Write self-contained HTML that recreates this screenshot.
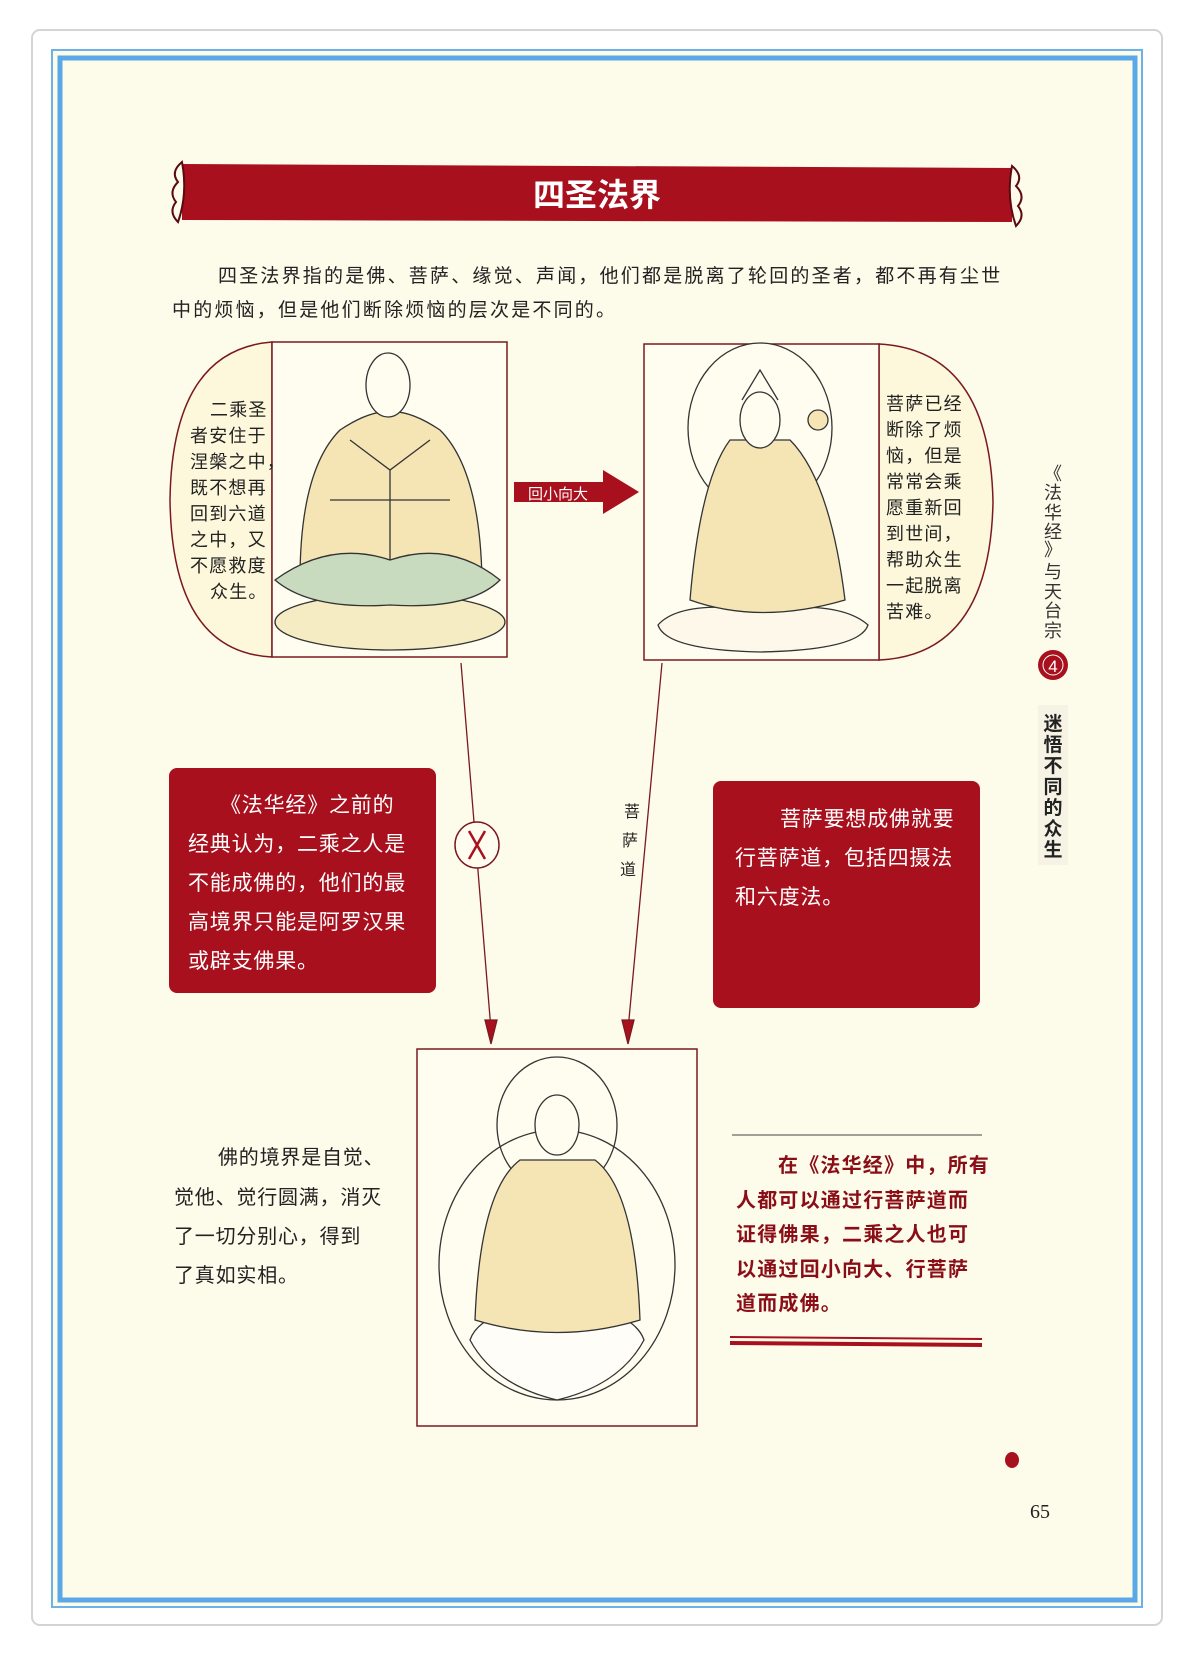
<!DOCTYPE html>
<html><head><meta charset="utf-8"><style>
html,body{margin:0;padding:0;background:#fff;}
svg{display:block;}
text{font-family:"Liberation Sans","Noto Sans CJK SC",sans-serif;}
</style></head><body>
<svg width="1188" height="1657" viewBox="0 0 1188 1657" xmlns="http://www.w3.org/2000/svg">
<rect x="32" y="30" width="1130" height="1595" rx="8" fill="#fff" stroke="#d4d4d4" stroke-width="2"/>
<rect x="52" y="50" width="1090" height="1557" fill="#fdfbea" stroke="#6bb2ea" stroke-width="2"/>
<rect x="60" y="58" width="1075" height="1542" fill="#fdfbea" stroke="#5aa8e8" stroke-width="5"/>
<path d="M182 164 L1012 168 L1012 222 L182 220 Z" fill="#a8101d"/>
<path d="M182 162 q-12 10 -4 20 q-10 10 -2 20 q-8 10 2 20 q10 -28 4 -60Z" fill="#fdfbea" stroke="#5a0a10" stroke-width="2"/>
<path d="M1012 166 q12 10 4 20 q10 10 2 20 q8 10 -2 20 q-10 -28 -4 -60Z" fill="#fdfbea" stroke="#5a0a10" stroke-width="2"/>
<text x="597" y="206" font-size="32" font-weight="bold" fill="#fff" text-anchor="middle">四圣法界</text>
<text font-size="19" fill="#222" letter-spacing="2.2"><tspan x="218" y="282">四圣法界指的是佛、菩萨、缘觉、声闻，他们都是脱离了轮回的圣者，都不再有尘世</tspan><tspan x="172" y="316">中的烦恼，但是他们断除烦恼的层次是不同的。</tspan></text>
<path d="M272 342 Q172 350 170 500 Q172 652 272 657 Z" fill="#fdf8dc" stroke="#7a1a20" stroke-width="1.5"/>
<rect x="272" y="342" width="235" height="315" fill="#fffdf0" stroke="#7a1a20" stroke-width="1.5"/>
<g fill="#222" font-size="18" letter-spacing="1.2"><text x="210" y="416">二乘圣</text><text x="190" y="442">者安住于</text><text x="190" y="468">涅槃之中，</text><text x="190" y="494">既不想再</text><text x="190" y="520">回到六道</text><text x="190" y="546">之中，又</text><text x="190" y="572">不愿救度</text><text x="210" y="598">众生。</text></g>
<g stroke="#333" stroke-width="1.3" fill="none">
<ellipse cx="390" cy="622" rx="115" ry="28" fill="#f6ecc4"/>
<path d="M300 580 Q300 470 340 430 Q370 410 390 412 Q410 410 440 430 Q480 470 482 580 Q390 610 300 580Z" fill="#f5e4b4"/>
<path d="M275 580 Q330 540 390 560 Q450 540 500 580 Q470 610 390 605 Q310 610 275 580Z" fill="#c9dbbf"/>
<ellipse cx="388" cy="385" rx="22" ry="32" fill="#fffdf0"/>
<path d="M350 440 L390 470 L430 440 M390 470 L390 560 M330 500 L450 500"/>
</g>
<path d="M514 482 L603 482 L603 470 L639 492 L603 514 L603 502 L514 502 Z" fill="#a8101d"/>
<text x="528" y="499" font-size="15" fill="#fff">回小向大</text>
<path d="M879 344 Q990 350 993 502 Q990 655 879 660 Z" fill="#fdf8dc" stroke="#7a1a20" stroke-width="1.5"/>
<rect x="644" y="344" width="235" height="316" fill="#fffdf0" stroke="#7a1a20" stroke-width="1.5"/>
<g fill="#222" font-size="18" letter-spacing="1.2"><text x="886" y="410">菩萨已经</text><text x="886" y="436">断除了烦</text><text x="886" y="462">恼，但是</text><text x="886" y="488">常常会乘</text><text x="886" y="514">愿重新回</text><text x="886" y="540">到世间，</text><text x="886" y="566">帮助众生</text><text x="886" y="592">一起脱离</text><text x="886" y="618">苦难。</text></g>
<g stroke="#333" stroke-width="1.3" fill="none">
<ellipse cx="760" cy="428" rx="72" ry="85" fill="#fffdf0"/>
<path d="M658 625 Q680 600 760 610 Q840 600 868 625 Q860 650 760 652 Q666 650 658 625Z" fill="#fdf8ea"/>
<path d="M690 600 Q700 480 730 440 L790 440 Q830 480 845 600 Q760 625 690 600Z" fill="#f5e4b4"/>
<ellipse cx="760" cy="420" rx="20" ry="28" fill="#fffdf0"/>
<path d="M742 400 L760 370 L778 400"/>
<circle cx="818" cy="420" r="10" fill="#f5e4b4"/>
</g>
<g stroke="#7a1a20" stroke-width="1.3" fill="#a8101d">
<line x1="461" y1="663" x2="491" y2="1030"/>
<path d="M485 1020 L497 1020 L491 1044 Z"/>
<line x1="662" y1="663" x2="628" y2="1030"/>
<path d="M622 1020 L634 1020 L628 1044 Z"/>
</g>
<ellipse cx="477" cy="845" rx="22" ry="23" fill="#fffdf0" stroke="#7a1a20" stroke-width="1.5"/>
<path d="M469 831 L485 859 M485 831 L469 859" stroke="#a8101d" stroke-width="2.5"/>
<g font-size="16" fill="#222"><text x="624" y="817">菩</text><text x="622" y="846">萨</text><text x="620" y="875">道</text></g>
<rect x="169" y="768" width="267" height="225" rx="8" fill="#a8101d"/>
<g font-size="21" fill="#fff" letter-spacing="0.8"><text x="220" y="812">《法华经》之前的</text><text x="188" y="851">经典认为，二乘之人是</text><text x="188" y="890">不能成佛的，他们的最</text><text x="188" y="929">高境界只能是阿罗汉果</text><text x="188" y="968">或辟支佛果。</text></g>
<rect x="713" y="781" width="267" height="227" rx="8" fill="#a8101d"/>
<g font-size="21" fill="#fff" letter-spacing="0.8"><text x="780" y="826">菩萨要想成佛就要</text><text x="735" y="865">行菩萨道，包括四摄法</text><text x="735" y="904">和六度法。</text></g>
<rect x="417" y="1049" width="280" height="377" fill="#fffdf0" stroke="#7a1a20" stroke-width="1.5"/>
<g stroke="#333" stroke-width="1.3" fill="none">
<ellipse cx="557" cy="1265" rx="118" ry="135"/>
<ellipse cx="557" cy="1125" rx="60" ry="68"/>
<path d="M470 1340 Q480 1310 557 1300 Q634 1310 644 1340 Q620 1385 557 1400 Q494 1385 470 1340Z" fill="#fffdf8"/>
<path d="M475 1320 Q480 1190 520 1160 L595 1160 Q635 1190 640 1320 Q557 1345 475 1320Z" fill="#f5e4b4"/>
<ellipse cx="557" cy="1125" rx="22" ry="30" fill="#fffdf0"/>
</g>
<g font-size="20" fill="#222" letter-spacing="0.8"><text x="218" y="1164">佛的境界是自觉、</text><text x="174" y="1204">觉他、觉行圆满，消灭</text><text x="174" y="1243">了一切分别心，得到</text><text x="174" y="1282">了真如实相。</text></g>
<line x1="732" y1="1135" x2="982" y2="1135" stroke="#444" stroke-width="1"/>
<g font-size="20" font-weight="bold" fill="#8a0e18" letter-spacing="1.2"><text x="778" y="1172">在《法华经》中，所有</text><text x="736" y="1207">人都可以通过行菩萨道而</text><text x="736" y="1241">证得佛果，二乘之人也可</text><text x="736" y="1276">以通过回小向大、行菩萨</text><text x="736" y="1310">道而成佛。</text></g>
<line x1="730" y1="1337" x2="982" y2="1339" stroke="#a8101d" stroke-width="2"/>
<line x1="730" y1="1343" x2="982" y2="1345" stroke="#a8101d" stroke-width="4"/>
<g font-size="18" fill="#333" text-anchor="middle"><text x="1053" y="480">《</text><text x="1053" y="499">法</text><text x="1053" y="519">华</text><text x="1053" y="538">经</text><text x="1053" y="556">》</text><text x="1053" y="578">与</text><text x="1053" y="598">天</text><text x="1053" y="617">台</text><text x="1053" y="637">宗</text></g>
<circle cx="1053" cy="665" r="15" fill="#a8101d"/>
<circle cx="1053" cy="665" r="10" fill="none" stroke="#fff" stroke-width="1"/>
<text x="1053" y="672" font-size="17" fill="#fff" text-anchor="middle">4</text>
<rect x="1038" y="705" width="30" height="160" fill="#f6f3e4"/>
<g font-size="19" fill="#222" text-anchor="middle" font-weight="bold"><text x="1053" y="730">迷</text><text x="1053" y="751">悟</text><text x="1053" y="772">不</text><text x="1053" y="793">同</text><text x="1053" y="814">的</text><text x="1053" y="835">众</text><text x="1053" y="856">生</text></g>
<ellipse cx="1012" cy="1460" rx="7" ry="8" fill="#a8101d"/>
<text x="1030" y="1518" font-size="20" fill="#222" style="font-family:'Liberation Serif',serif">65</text>
</svg>
</body></html>
